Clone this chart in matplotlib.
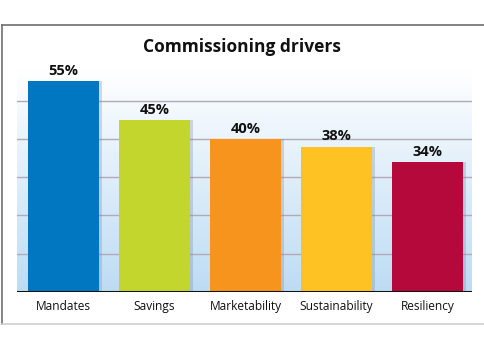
import matplotlib.pyplot as plt
import numpy as np
from matplotlib.lines import Line2D
from matplotlib.colors import LinearSegmentedColormap

categories = ["Mandates", "Savings", "Marketability", "Sustainability", "Resiliency"]
values = [55, 45, 40, 38, 34]
labels = ["55%", "45%", "40%", "38%", "34%"]
colors = ["#0077c0", "#c2d62e", "#f7941d", "#ffc222", "#b5093b"]

plt.rcParams['font.family'] = ['Open Sans', 'DejaVu Sans']

fig = plt.figure(figsize=(4.85, 3.5), dpi=100)
fig.patch.set_facecolor("white")

# outer frame: dark top/left, light bottom, open on the right
top, bot, left = 1 - 25 / 350, 1 - 324 / 350, 2 / 485
fig.lines.append(Line2D([left, 1], [top, top], transform=fig.transFigure,
                        color="#6e6e6e", linewidth=1.2))
fig.lines.append(Line2D([left, left], [bot, top], transform=fig.transFigure,
                        color="#6e6e6e", linewidth=1.2))
fig.lines.append(Line2D([left, 1], [bot, bot], transform=fig.transFigure,
                        color="#d0d0d0", linewidth=1.2))

ax = fig.add_axes([17 / 485, 1 - 292 / 350, 455 / 485, 222 / 350])
ax.set_xlim(-0.511, 4.489)
ax.set_ylim(0, 58)

# background gradient
grad = LinearSegmentedColormap.from_list("bg", ["#bcdcf4", "#ffffff"])
ax.imshow(np.linspace(0, 1, 256).reshape(-1, 1), cmap=grad, aspect="auto",
          extent=[-0.511, 4.489, 0, 58], origin="lower", zorder=0)

for y in [10, 20, 30, 40, 50]:
    ax.axhline(y, color="#b3aab8", linewidth=1.0, zorder=1)

x = np.arange(len(categories))
# soft shadow
ax.bar(x + 0.035, values, width=0.78, color="#6f8aa3", alpha=0.3, zorder=2)
ax.bar(x, values, width=0.78, color=colors, zorder=3)

for xi, v, lab in zip(x, values, labels):
    ax.text(xi, v + 0.8, lab, ha="center", va="bottom", fontsize=10.5,
            fontweight="bold", color="#111111")

ax.axhline(0, color="#111111", linewidth=2.2, zorder=4)

ax.set_xticks(x)
ax.set_xticklabels(categories, fontsize=8.6, color="#111111")
ax.tick_params(axis="x", length=0, pad=6)
ax.set_yticks([])
for s in ax.spines.values():
    s.set_visible(False)

fig.text(242 / 485, 1 - 47 / 350, "Commissioning drivers", ha="center",
         va="center", fontsize=12.5, fontweight="bold", color="#111111")

fig.savefig("out.png", dpi=100)
